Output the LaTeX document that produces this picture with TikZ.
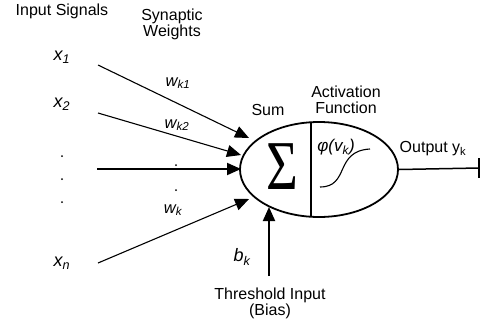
\documentclass[tikz,border=0pt]{standalone}
\usepackage{fontspec}
\setmainfont{Liberation Sans}
\newfontfamily\sigfont{Liberation Serif}
\usetikzlibrary{arrows.meta,shapes.geometric}
\tikzset{
  lbl/.style={font=\fontsize{16}{18}\selectfont, inner sep=0pt, align=center},
  var/.style={font=\fontsize{18}{20}\selectfont\itshape, inner sep=0pt},
  wlbl/.style={font=\fontsize{16.5}{18}\selectfont\itshape, inner sep=0pt},
  dotn/.style={circle, fill=black, inner sep=0pt, minimum size=2pt},
  inarrow/.style={line width=1.1pt, -{Triangle[length=14pt,width=12pt]}},
  thickarrow/.style={line width=2pt, -{Triangle[length=14pt,width=12pt]}},
}
\begin{document}
\begin{tikzpicture}[x=1pt,y=-1pt]
\useasboundingbox (0,0) rectangle (484,327);
% headings
\node[lbl] (insig) at (62,11) {Input Signals};
\node[lbl] (syn) at (172,24) {Synaptic\\[-2pt]Weights};
\node[lbl] (sum) at (268,110) {Sum};
\node[lbl] (act) at (346,100) {Activation\\[-2pt]Function};
\node[lbl] (outl) at (433,149) {Output y\textsubscript{k}};
\node[lbl] (thr) at (270,303) {Threshold Input\\[-2pt](Bias)};
% inputs
\node[var] (x1) at (62,57) {x\textsubscript{1}};
\node[var] (x2) at (62,104) {x\textsubscript{2}};
\node[var] (xn) at (62,263) {x\textsubscript{n}};
\node[dotn] (d1) at (62,156) {};
\node[dotn] (d2) at (62,179) {};
\node[dotn] (d3) at (62,202) {};
% weights
\node[wlbl] (w1) at (178,83) {w\textsubscript{k1}};
\node[wlbl] (w2) at (177,125) {w\textsubscript{k2}};
\node[wlbl] (wk) at (173,210) {w\textsubscript{k}};
\node[dotn] (m1) at (176,165) {};
\node[dotn] (m2) at (176,190) {};
\node[var] (bk) at (242,257) {b\textsubscript{k}};
% neuron
\node[draw, ellipse, line width=1.8pt, minimum width=158pt, minimum height=95pt, inner sep=0pt] (neuron) at (319,169.5) {};
\coordinate (divtop) at (311,122.3);
\coordinate (divbot) at (311,216.7);
\draw[line width=1.1pt] (divtop) -- (divbot);
\node[inner sep=0pt, font=\sigfont\fontsize{70}{70}\selectfont] (sigma) at (282,167) {\scalebox{0.78}[1]{Σ}};
\node[inner sep=0pt, font=\fontsize{17}{19}\selectfont\itshape] (phi) at (336,147) {φ(v\textsubscript{k})};
\coordinate (c0) at (320,187);
\coordinate (c1) at (370,149);
\draw[line width=1.1pt] (c0) .. controls (350,187) and (334,151) .. (c1);
% input connectors
\coordinate (s1) at (98,65);   \coordinate (t1) at (249,138);
\coordinate (s2) at (98,113);  \coordinate (t2) at (241,155);
\coordinate (s3) at (97,169);  \coordinate (t3) at (241,169);
\coordinate (sn) at (98,263);  \coordinate (tn) at (249,199);
\draw[inarrow] (s1) -- (t1);
\draw[inarrow] (s2) -- (t2);
\draw[thickarrow] (s3) -- (t3);
\draw[inarrow] (sn) -- (tn);
% bias
\coordinate (bs) at (269,276); \coordinate (bt) at (269,207);
\draw[thickarrow] (bs) -- (bt);
% output
\coordinate (oend) at (479,168);
\coordinate (otop) at (479,158);
\coordinate (obot) at (479,178);
\draw[line width=1.5pt] (neuron.east) -- (oend);
\draw[line width=1.5pt] (otop) -- (obot);
\end{tikzpicture}
\end{document}
